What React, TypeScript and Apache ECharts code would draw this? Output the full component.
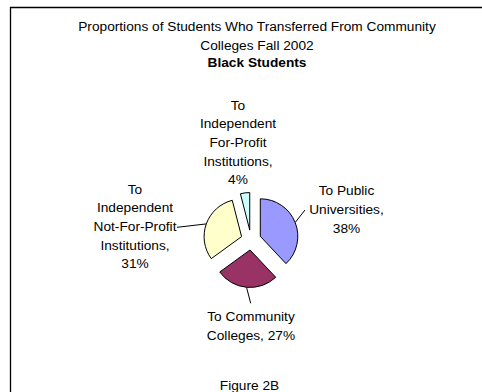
import React, { useEffect, useRef } from 'react';
import * as echarts from 'echarts';

// Share of Black community-college transfer students by destination, Fall 2002
const categories = [
  'To Public Universities',
  'To Community Colleges',
  'To Independent Not-For-Profit Institutions',
  'To Independent For-Profit Institutions',
];
const shares = [38, 27, 31, 4];
const labelTemplates = [
  'To Public\nUniversities,\n{c}%',
  'To Community\nColleges, {c}%',
  'To\nIndependent\nNot-For-Profit\nInstitutions,\n{c}%',
  'To\nIndependent\nFor-Profit\nInstitutions,\n{c}%',
];
const sliceColors = ['#9999FF', '#993366', '#FFFFCC', '#CCFFFF'];

const titleLines = ['Proportions of Students Who Transferred From Community', 'Colleges Fall 2002'];
const subtitle = 'Black Students';
const caption = 'Figure 2B';

const FONT = '"Liberation Sans", Arial, Helvetica, sans-serif';
const FONT_SIZE = 13.7;
const CENTER: [number, number] = [251, 240];
const RADIUS = 37.5;
const EXPLODE = 10;

// centre of each label block, and where its leader line meets the text
const labelAnchors: [number, number][] = [
  [346.5, 209.5],
  [251, 326],
  [135, 226.5],
  [238, 142.5],
];
const leaderEnds: ([number, number] | null)[] = [[305, 210], [250.7, 303.3], [177, 227.3], null];

// unit vector pointing through the middle of a slice (clockwise from 12 o'clock)
function midDirection(index: number): [number, number] {
  const total = shares.reduce((a, b) => a + b, 0);
  let before = 0;
  for (let i = 0; i < index; i++) before += shares[i];
  const a = ((before + shares[index] / 2) / total) * Math.PI * 2;
  return [Math.sin(a), -Math.cos(a)];
}

function buildLabels() {
  const items: any[] = [];
  categories.forEach((_, i) => {
    const text = labelTemplates[i].replace('{c}', String(shares[i]));
    items.push({
      type: 'text',
      silent: true,
      style: {
        text,
        x: labelAnchors[i][0],
        y: labelAnchors[i][1],
        align: 'center',
        verticalAlign: 'middle',
        fontFamily: FONT,
        fontSize: FONT_SIZE,
        lineHeight: 18.7,
        fill: '#000',
      },
    });
    const end = leaderEnds[i];
    if (end) {
      const [dx, dy] = midDirection(i);
      const reach = RADIUS + EXPLODE;
      items.push({
        type: 'line',
        silent: true,
        shape: { x1: CENTER[0] + dx * reach, y1: CENTER[1] + dy * reach, x2: end[0], y2: end[1] },
        style: { stroke: '#000', lineWidth: 1 },
      });
    }
  });
  return items;
}

export default function App() {
  const ref = useRef<HTMLDivElement>(null);

  useEffect(() => {
    if (!ref.current) return;
    const chart = echarts.init(ref.current, undefined, { renderer: 'svg' });
    chart.setOption({
      animation: false,
      backgroundColor: '#ffffff',
      textStyle: { fontFamily: FONT },
      title: [
        {
          text: titleLines.join('\n'),
          subtext: subtitle,
          left: 252,
          top: 12.7,
          textAlign: 'center',
          itemGap: 0,
          textStyle: { fontFamily: FONT, fontSize: FONT_SIZE, fontWeight: 'normal', color: '#000', lineHeight: 18.3 },
          subtextStyle: { fontFamily: FONT, fontSize: FONT_SIZE, fontWeight: 'bold', color: '#000', lineHeight: 17 },
        },
        {
          text: caption,
          left: 244.5,
          top: 371.5,
          textAlign: 'center',
          textStyle: { fontFamily: FONT, fontSize: FONT_SIZE, fontWeight: 'normal', color: '#000', lineHeight: 18 },
        },
      ],
      graphic: [
        {
          type: 'rect',
          silent: true,
          shape: { x: 10.5, y: 7.5, width: 500, height: 400 },
          style: { fill: 'none', stroke: '#000', lineWidth: 1.3 },
        },
        ...buildLabels(),
      ],
      series: [
        {
          type: 'pie',
          center: CENTER,
          radius: RADIUS,
          startAngle: 90,
          clockwise: true,
          selectedMode: 'multiple',
          selectedOffset: EXPLODE,
          emphasis: { disabled: true },
          itemStyle: { borderColor: '#000', borderWidth: 1 },
          label: { show: false },
          labelLine: { show: false },
          data: categories.map((name, i) => ({
            name,
            value: shares[i],
            selected: true,
            itemStyle: { color: sliceColors[i] },
          })),
        },
      ],
    });
    return () => chart.dispose();
  }, []);

  return <div ref={ref} style={{ position: 'absolute', left: 0, top: 0, width: 482, height: 392 }} />;
}
